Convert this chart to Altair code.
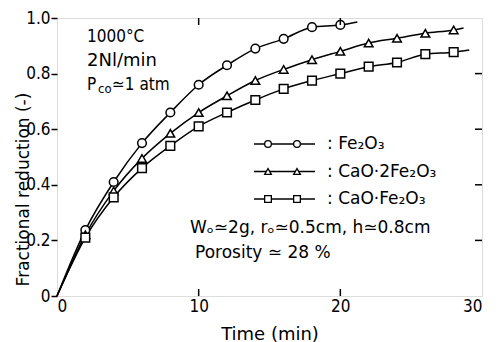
import altair as alt
import pandas as pd

# ---- data ----
marker_time = [2, 4, 6, 8, 10, 12, 14, 16, 18, 20, 22, 24, 26, 28]
fe2o3 = [0.237, 0.41, 0.55, 0.66, 0.76, 0.83, 0.89, 0.925, 0.967, 0.975]
cao2fe2o3 = [0.22, 0.378, 0.495, 0.585, 0.66, 0.72, 0.775, 0.815, 0.85, 0.88, 0.91, 0.927, 0.945, 0.957]
caofe2o3 = [0.21, 0.355, 0.46, 0.54, 0.61, 0.66, 0.705, 0.745, 0.775, 0.80, 0.825, 0.84, 0.87, 0.877]
line_end_time = {"Fe2O3": 21.2, "CaO·2Fe2O3": 28.7, "CaO·Fe2O3": 29.1}
line_end_value = {"Fe2O3": 0.986, "CaO·2Fe2O3": 0.964, "CaO·Fe2O3": 0.885}
series_names = ["Fe2O3", "CaO·2Fe2O3", "CaO·Fe2O3"]
series_labels = [": Fe₂O₃", ": CaO·2Fe₂O₃", ": CaO·Fe₂O₃"]
series_shapes = ["circle", "triangle-up", "square"]
x_ticks = [0, 10, 20, 30]
y_ticks = [0, 0.2, 0.4, 0.6, 0.8, 1.0]
inner_x_ticks = [10, 20]
inner_y_ticks = [0.2, 0.4, 0.6, 0.8]

W, H = 425, 278
FONT_C = "DejaVu Sans Condensed, DejaVu Sans"
FONT = "DejaVu Sans"

values = {"Fe2O3": fe2o3, "CaO·2Fe2O3": cao2fe2o3, "CaO·Fe2O3": caofe2o3}
pts, lns = [], []
for s in series_names:
    v = values[s]
    t = marker_time[:len(v)]
    for ti, vi in zip(t, v):
        pts.append({"series": s, "time": ti, "red": vi})
    lns.append({"series": s, "time": 0, "red": 0})
    for ti, vi in zip(t, v):
        lns.append({"series": s, "time": ti, "red": vi})
    lns.append({"series": s, "time": line_end_time[s], "red": line_end_value[s]})
pts = pd.DataFrame(pts)
lns = pd.DataFrame(lns)

xs = alt.Scale(domain=[0, 30], nice=False)
ys = alt.Scale(domain=[0, 1.0], nice=False)
shape_scale = alt.Scale(domain=series_names, range=series_shapes)

lines = alt.Chart(lns).mark_line(color="black", strokeWidth=1.5, interpolate="monotone").encode(
    x=alt.X("time:Q", scale=xs, axis=alt.Axis(values=x_ticks, ticks=False, domain=False, grid=False,
                                              labelFontSize=17, labelFont=FONT_C, labelPadding=2,
                                              labelColor="black", title="Time (min)",
                                              titleFont=FONT, titleFontSize=18, titleFontWeight="normal",
                                              titlePadding=11, titleColor="black")),
    y=alt.Y("red:Q", scale=ys, axis=alt.Axis(values=y_ticks, tickSize=6, tickColor="black", tickWidth=1.5,
                                             domain=False, grid=False, labelFontSize=17, labelFont=FONT_C,
                                             labelPadding=1, labelColor="black",
                                             labelExpr="datum.value == 0 ? '0' : format(datum.value, '.1f')",
                                             title="Fractional reduction (-)", titleFont=FONT,
                                             titleFontSize=17, titleFontWeight="normal", titleColor="black",
                                             titleX=-25, titleY=171)),
    detail="series:N",
)

points = alt.Chart(pts).mark_point(filled=True, fill="white", stroke="black", strokeWidth=1.5, size=75, opacity=1).encode(
    x=alt.X("time:Q", scale=xs),
    y=alt.Y("red:Q", scale=ys),
    shape=alt.Shape("series:N", scale=shape_scale, legend=None),
)

tick_x = pd.DataFrame({"t": inner_x_ticks})
tick_y = pd.DataFrame({"v": inner_y_ticks})
bottom_ticks = alt.Chart(tick_x).mark_rule(color="black", strokeWidth=1.5).encode(
    x=alt.X("t:Q", scale=xs), y=alt.value(H), y2=alt.value(H - 7))
top_ticks = alt.Chart(tick_x).mark_rule(color="black", strokeWidth=1.5).encode(
    x=alt.X("t:Q", scale=xs), y=alt.value(0), y2=alt.value(7))
right_ticks = alt.Chart(tick_y).mark_rule(color="black", strokeWidth=1.5).encode(
    y=alt.Y("v:Q", scale=ys), x=alt.value(W), x2=alt.value(W - 7))

# ---- legend (drawn inside the plot) ----
leg = pd.DataFrame({"series": series_names, "label": series_labels, "row": [0, 1, 2]})
leg_y = "126 + datum.row * 27.5"
leg_line = alt.Chart(leg).mark_rule(color="black", strokeWidth=1.5).transform_calculate(
    py=leg_y).encode(x=alt.value(197), x2=alt.value(258), y=alt.Y("py:Q", scale=None))
leg_pts = []
for px in (211, 240):
    leg_pts.append(alt.Chart(leg).mark_point(filled=True, fill="white", stroke="black", strokeWidth=1.3,
                                             size=45, opacity=1).transform_calculate(py=leg_y).encode(
        x=alt.value(px), y=alt.Y("py:Q", scale=None),
        shape=alt.Shape("series:N", scale=shape_scale, legend=None)))
leg_text = alt.Chart(leg).mark_text(align="left", baseline="middle", font=FONT, fontSize=17, color="black").transform_calculate(
    py=leg_y).encode(x=alt.value(270), y=alt.Y("py:Q", scale=None), text="label:N")

# ---- annotations ----
def txt(s, x, y, size=17, align="left", font=FONT):
    return alt.Chart(pd.DataFrame({"s": [s]})).mark_text(
        align=align, baseline="middle", font=font, fontSize=size, color="black").encode(
        x=alt.value(x), y=alt.value(y), text="s:N")

notes = [
    txt("1000°C", 30, 19, font=FONT_C),
    txt("2Nl/min", 30, 43, size=18),
    txt("P", 30, 67, font=FONT_C),
    txt("co", 41, 71, size=13, font=FONT_C),
    txt("≃1 atm", 55, 67, font=FONT_C),
    txt("Wₒ≃2g,  rₒ≃0.5cm,  h≃0.8cm", 133, 210),
    txt("Porosity ≃ 28 %", 138, 235),
]

chart = alt.layer(lines, points, bottom_ticks, top_ticks, right_ticks, leg_line, *leg_pts, leg_text, *notes).properties(
    width=W, height=H,
    autosize=alt.AutoSizeParams(type="none"),
    padding={"left": 49, "top": 10, "right": 7, "bottom": 46},
).configure_view(stroke="black", strokeWidth=2).configure(background="white")

chart.save("out.html", embed_options={"renderer": "svg", "actions": False})
